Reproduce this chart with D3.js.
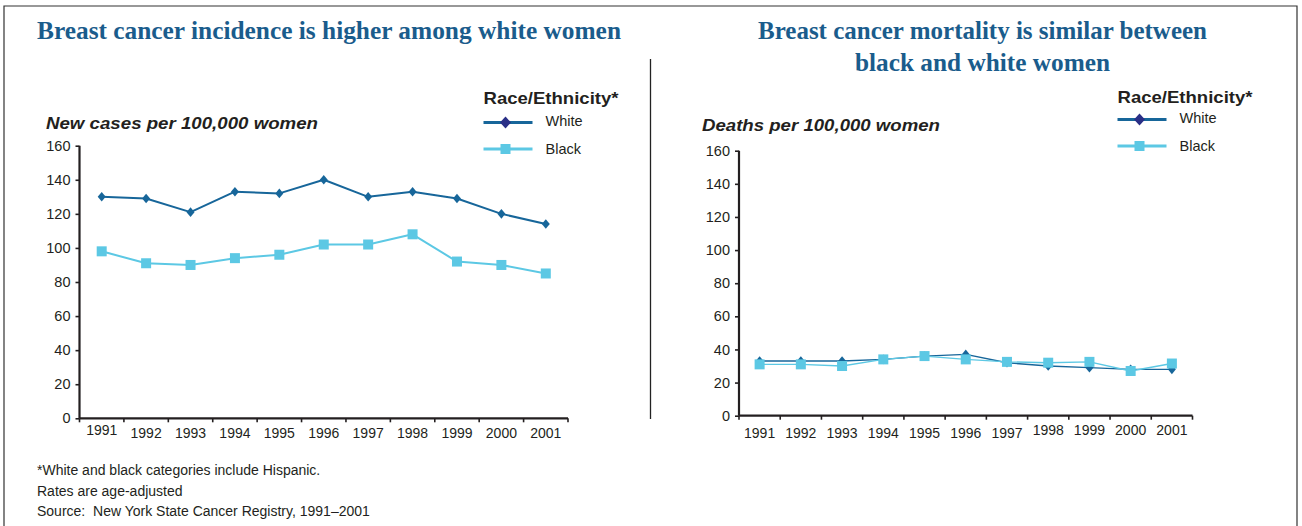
<!DOCTYPE html>
<html>
<head>
<meta charset="utf-8">
<script src="https://cdn.jsdelivr.net/npm/d3@7"></script>
<style>
  html, body { margin: 0; padding: 0; background: #fff; }
  svg { display: block; }
</style>
</head>
<body>
<svg id="chart" width="1302" height="526"></svg>
<script>
// ---------- data ----------
const years = ["1991","1992","1993","1994","1995","1996","1997","1998","1999","2000","2001"];
const incidenceWhite = [130, 129, 121, 133, 132, 140, 130, 133, 129, 120, 114];
const incidenceBlack = [98, 91, 90, 94, 96, 102, 102, 108, 92, 90, 85];
const mortalityWhite = [33, 33, 33, 34, 36, 37, 32, 30, 29, 28, 28];
const mortalityBlack = [31, 31, 30, 34, 36, 34, 32.5, 32, 32.5, 27, 31.5];
const yTicks = [0, 20, 40, 60, 80, 100, 120, 140, 160];
const seriesNames = ["White", "Black"];
const legendTitle = "Race/Ethnicity*";
const titleLeft = ["Breast cancer incidence is higher among white women"];
const titleRight = ["Breast cancer mortality is similar between", "black and white women"];
const yTitleLeft = "New cases per 100,000 women";
const yTitleRight = "Deaths per 100,000 women";
const footnotes = [
  "*White and black categories include Hispanic.",
  "Rates are age-adjusted",
  "Source:  New York State Cancer Registry, 1991\u20132001"
];

// ---------- styles ----------
const C_WHITE = "#17669a";
const C_WHITE_LEG = "#2a2f87";
const C_BLACK = "#5cc8e4";
const C_TITLE = "#1a5c8c";
const C_TEXT = "#231f20";
const SANS = "'Liberation Sans', Arial, Helvetica, sans-serif";
const SERIF = "'Liberation Serif', 'Times New Roman', serif";
const NARROW = "'Liberation Sans Narrow', 'Arial Narrow', 'Liberation Sans', sans-serif";

const svg = d3.select("#chart");

// frame
svg.append("path")
  .attr("d", "M4,526 V6 H1297 V526")
  .attr("fill", "none").attr("stroke", "#333").attr("stroke-width", 1.2);

// divider
svg.append("line").attr("x1", 650.5).attr("x2", 650.5).attr("y1", 59).attr("y2", 419)
  .attr("stroke", "#222").attr("stroke-width", 1.3);

function diamondPath(hw, hh) {
  return `M0,${-hh}L${hw},0L0,${hh}L${-hw},0Z`;
}

function drawTitle(lines, cx, y0, widths) {
  lines.forEach((t, i) => {
    svg.append("text")
      .attr("x", cx).attr("y", y0 + i * 32)
      .attr("text-anchor", "middle")
      .attr("font-family", SERIF).attr("font-weight", "bold")
      .attr("font-size", 26).attr("fill", C_TITLE)
      .attr("textLength", widths[i]).attr("lengthAdjust", "spacingAndGlyphs")
      .text(t);
  });
}

function drawChart(cfg) {
  const g = svg.append("g");
  const x = d3.scaleBand().domain(years).range([cfg.x0, cfg.x1]);
  const y = d3.scaleLinear().domain([0, 160]).range([cfg.yBottom, cfg.yTop]);

  // y axis
  const yAxis = g.append("g").attr("transform", `translate(${cfg.x0},0)`)
    .call(d3.axisLeft(y).tickValues(yTicks).tickSize(4).tickPadding(5).tickSizeOuter(0));
  yAxis.select(".domain").attr("stroke", "#231f20").attr("stroke-width", 2.2)
    .attr("d", `M0,${cfg.yTop}V${cfg.yBottom}`);
  yAxis.selectAll(".tick line").attr("stroke", "#231f20").attr("stroke-width", 1.6);
  yAxis.selectAll(".tick text").attr("font-family", SANS).attr("font-size", 14.5)
    .attr("fill", C_TEXT);

  // x axis
  const xAxis = g.append("g").attr("transform", `translate(0,${cfg.yBottom})`)
    .call(d3.axisBottom(x).tickSize(0).tickPadding(0));
  xAxis.select(".domain").attr("stroke", "#231f20").attr("stroke-width", 2.2)
    .attr("d", `M${cfg.x0},0H${cfg.x1}`);
  xAxis.selectAll(".tick text").attr("font-family", SANS).attr("font-size", 14)
    .attr("fill", C_TEXT).attr("dy", null)
    .attr("y", (d, i) => cfg.labelY(i) - cfg.yBottom + 5);
  // boundary tick marks between categories
  const bounds = years.map(d => x(d)).concat([cfg.x1]);
  xAxis.selectAll(".bnd").data(bounds).enter().append("line")
    .attr("class", "bnd")
    .attr("x1", d => d).attr("x2", d => d).attr("y1", 0).attr("y2", 4)
    .attr("stroke", "#231f20").attr("stroke-width", 1.6);

  const cx = d => x(d) + x.bandwidth() / 2;

  // series
  const series = [
    { vals: cfg.white, color: C_WHITE, w: cfg.lwWhite, shape: "diamond" },
    { vals: cfg.black, color: C_BLACK, w: cfg.lwBlack, shape: "square" }
  ];
  const lineGen = d3.line().x((d, i) => cx(years[i])).y(d => y(d));
  const order = cfg.drawOrder;
  order.forEach(k => {
    const s = series[k];
    g.append("path").attr("d", lineGen(s.vals)).attr("fill", "none")
      .attr("stroke", s.color).attr("stroke-width", s.w).attr("stroke-linejoin", "round");
  });
  order.forEach(k => {
    const s = series[k];
    if (s.shape === "diamond") {
      g.selectAll(null).data(s.vals).enter().append("path")
        .attr("d", diamondPath(cfg.dHW, cfg.dHH))
        .attr("transform", (d, i) => `translate(${cx(years[i])},${y(d)})`)
        .attr("fill", s.color);
    } else {
      g.selectAll(null).data(s.vals).enter().append("rect")
        .attr("x", (d, i) => cx(years[i]) - cfg.sq / 2)
        .attr("y", d => y(d) - cfg.sq / 2)
        .attr("width", cfg.sq).attr("height", cfg.sq)
        .attr("fill", s.color);
    }
  });

  // y title
  g.append("text").attr("x", cfg.yTitleX).attr("y", cfg.yTitleY)
    .attr("font-family", SANS).attr("font-weight", "bold").attr("font-style", "italic")
    .attr("font-size", 17).attr("fill", C_TEXT)
    .attr("textLength", cfg.yTitleW).attr("lengthAdjust", "spacingAndGlyphs")
    .text(cfg.yTitle);

  // legend
  const lg = g.append("g");
  lg.append("text").attr("x", cfg.legX).attr("y", cfg.legY)
    .attr("font-family", SANS).attr("font-weight", "bold").attr("font-size", 16.5)
    .attr("fill", C_TEXT).attr("textLength", 135).attr("lengthAdjust", "spacingAndGlyphs")
    .text(legendTitle);
  const ly = [cfg.legY + cfg.legL1, cfg.legY + cfg.legL1 + 26.5];
  // white
  lg.append("line").attr("x1", cfg.legX).attr("x2", cfg.legX + 49)
    .attr("y1", ly[0]).attr("y2", ly[0]).attr("stroke", C_WHITE).attr("stroke-width", 3);
  lg.append("path").attr("d", diamondPath(5.5, 6))
    .attr("transform", `translate(${cfg.legX + 22},${ly[0]})`)
    .attr("fill", C_WHITE_LEG);
  lg.append("text").attr("x", cfg.legX + 62).attr("y", ly[0] + 3)
    .attr("font-family", SANS).attr("font-size", 14.5).attr("fill", C_TEXT).text(seriesNames[0]);
  // black
  lg.append("line").attr("x1", cfg.legX).attr("x2", cfg.legX + 49)
    .attr("y1", ly[1]).attr("y2", ly[1]).attr("stroke", C_BLACK).attr("stroke-width", 3);
  lg.append("rect").attr("x", cfg.legX + 22 - 5).attr("y", ly[1] - 5)
    .attr("width", 10).attr("height", 10).attr("fill", C_BLACK);
  lg.append("text").attr("x", cfg.legX + 62).attr("y", ly[1] + 5)
    .attr("font-family", SANS).attr("font-size", 14.5).attr("fill", C_TEXT).text(seriesNames[1]);
}

drawTitle(titleLeft, 329, 39, [584]);
drawTitle(titleRight, 982.5, 39, [449, 255]);

drawChart({
  x0: 79.5, x1: 568, yTop: 145.7, yBottom: 418.3,
  white: incidenceWhite, black: incidenceBlack,
  lwWhite: 2, lwBlack: 2, dHW: 4, dHH: 4.8, sq: 10,
  drawOrder: [1, 0],
  labelY: i => (i === 0 ? 430 : 433.5),
  yTitle: yTitleLeft, yTitleX: 46, yTitleY: 129, yTitleW: 272,
  legX: 483.5, legY: 103.5, legL1: 19
});

drawChart({
  x0: 739, x1: 1192.5, yTop: 150.7, yBottom: 415.7,
  white: mortalityWhite, black: mortalityBlack,
  lwWhite: 1.4, lwBlack: 1.4, dHW: 4, dHH: 4.8, sq: 10,
  drawOrder: [0, 1],
  labelY: i => (i >= 7 ? 430 : 433.5),
  yTitle: yTitleRight, yTitleX: 702, yTitleY: 131, yTitleW: 238,
  legX: 1117.5, legY: 102.5, legL1: 17
});

// footnotes
footnotes.forEach((t, i) => {
  svg.append("text").attr("x", 37).attr("y", 475 + i * 20.5)
    .attr("font-family", NARROW).attr("font-size", 14).attr("fill", C_TEXT)
    .style("white-space", "pre")
    .text(t);
});
</script>
</body>
</html>
